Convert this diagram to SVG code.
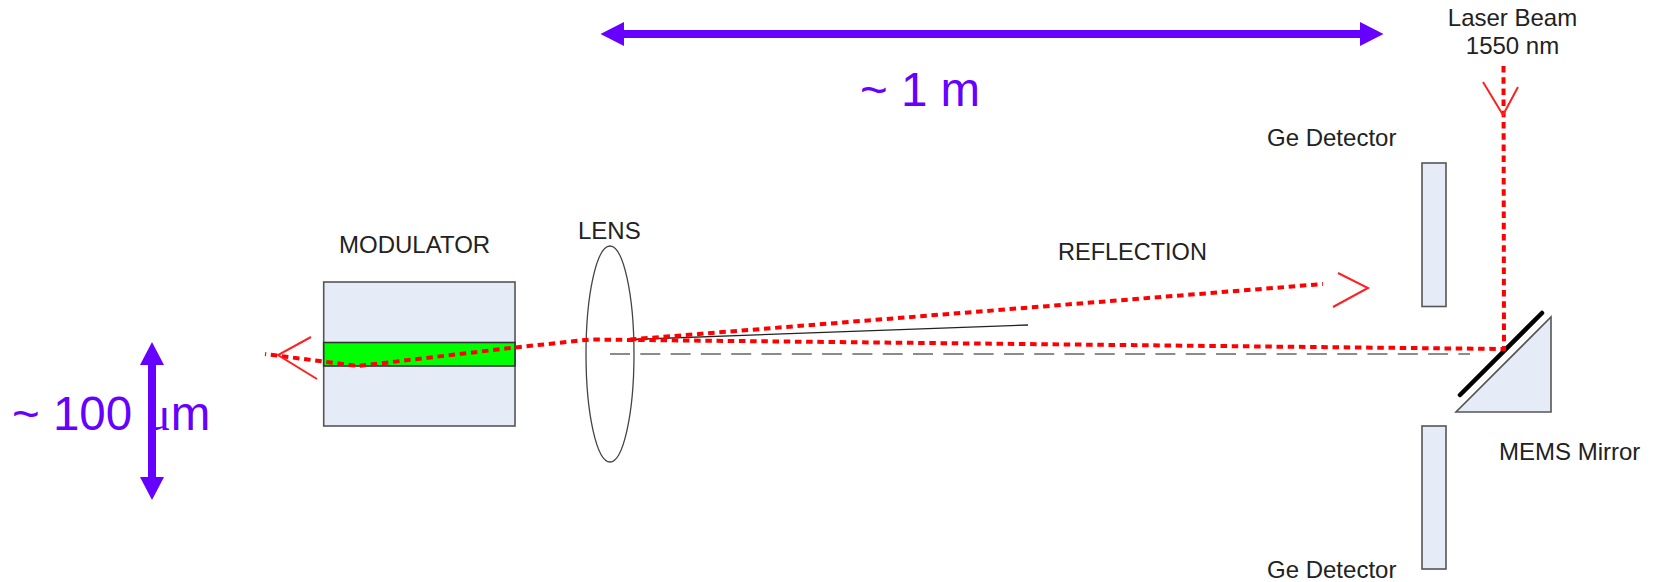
<svg xmlns="http://www.w3.org/2000/svg" width="1653" height="582" viewBox="0 0 1653 582">
<style>
text{font-family:"Liberation Sans",Arial,sans-serif;font-size:24px;fill:#222}
.big{font-size:47.500px;fill:#6600ff}
.box{fill:#e6ecf7;stroke:#555;stroke-width:1.6}
.beam{fill:none;stroke:#ff0000;stroke-width:4;stroke-dasharray:6.500 4.700}
.head{fill:none;stroke:#ff2020;stroke-width:2}
.dim{fill:none;stroke:#6600ff;stroke-width:8}
.tip{fill:#6600ff}
</style>
<rect width="1653" height="582" fill="#fff"/>
<g id="modulator">
<rect class="box" x="323.7" y="282" width="191.3" height="144"/>
<rect x="323.7" y="342.5" width="191.3" height="23.5" fill="#00ff00" stroke="#333" stroke-width="1.6"/>
<text x="339" y="253">MODULATOR</text>
</g>
<g id="lens">
<ellipse cx="610" cy="354" rx="24" ry="108" fill="none" stroke="#444" stroke-width="1.3"/>
<text x="578" y="239">LENS</text>
</g>
<g id="detector-top">
<rect class="box" x="1422" y="163" width="24" height="143.500"/>
<text x="1267" y="146">Ge Detector</text>
</g>
<g id="detector-bottom">
<rect class="box" x="1422" y="426" width="24" height="143"/>
<text x="1267" y="578">Ge Detector</text>
</g>
<g id="mems-mirror">
<polygon class="box" points="1551,317 1551,412 1456,412"/>
<line x1="1460" y1="395" x2="1542" y2="313" stroke="#000" stroke-width="4.500" stroke-linecap="round"/>
<text x="1499" y="460">MEMS Mirror</text>
</g>
<g id="labels">
<text x="1512.500" y="26" text-anchor="middle">Laser Beam</text>
<text x="1512.500" y="54" text-anchor="middle">1550 nm</text>
<text x="1058" y="260" style="font-size:23.500px">REFLECTION</text>
<text class="big" x="860" y="106">~ 1 m</text>
<text class="big" x="12" y="430">~ 100 <tspan font-family="'Liberation Serif',serif">μ</tspan>m</text>
</g>
<g id="connectors">
<line x1="610" y1="354" x2="1470" y2="354" stroke="#666" stroke-width="1.500" stroke-dasharray="20 10.300"/>
<line x1="630" y1="339.500" x2="1028" y2="325" stroke="#222" stroke-width="1.300"/>
<path class="beam" d="M1503.500 66L1504 349L590 339.500L515 347.500L358 366L265 354"/>
<path class="beam" d="M630 339.500L1323 284"/>
<path class="head" d="M311 337L278 355L317 379"/>
<path class="head" d="M1338 273L1368 288L1333 307"/>
<path class="head" d="M1483 82L1503 115L1518 87"/>
<line class="dim" x1="620" y1="34" x2="1364" y2="34"/>
<polygon class="tip" points="600.500,34 624,22 624,46"/>
<polygon class="tip" points="1383.500,34 1360,22 1360,46"/>
<line class="dim" x1="152" y1="360" x2="152" y2="482"/>
<polygon class="tip" points="152,342 140,365 164,365"/>
<polygon class="tip" points="152,500 140,477 164,477"/>
</g>
</svg>
